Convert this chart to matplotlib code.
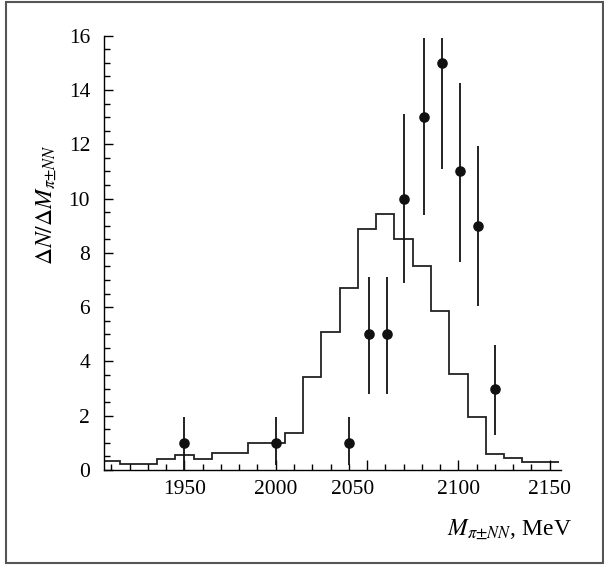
import matplotlib
matplotlib.use("Agg")
import matplotlib.pyplot as plt
import numpy as np
from matplotlib.patches import Rectangle
from matplotlib.ticker import MultipleLocator

plt.rcParams["font.family"] = ["Liberation Serif", "DejaVu Serif"]
plt.rcParams["mathtext.fontset"] = "stix"

# ── Data: measured events (points) ────────────────────────────────────────────
mass = [1950, 2000, 2040, 2051, 2061, 2070, 2081, 2091, 2101, 2111, 2120]
counts = [1, 1, 1, 5, 5, 10, 13, 15, 11, 9, 3]
err_lo = [1.0, 0.8, 0.82, 2.2, 2.2, 3.1, 3.6, 3.9, 3.35, 2.95, 1.7]
err_hi = [0.95, 0.95, 0.95, 2.1, 2.1, 3.1, 2.9, 0.9, 3.25, 2.95, 1.6]

# ── Data: simulated spectrum (histogram) ──────────────────────────────────────
hist_edges = [1905, 1915, 1925, 1935, 1945, 1955, 1965, 1975, 1985, 1995,
              2005, 2015, 2025, 2035, 2045, 2055, 2065, 2075, 2085, 2095,
              2105, 2115, 2125, 2135, 2145, 2155]
hist_vals = [0.34, 0.22, 0.22, 0.42, 0.55, 0.42, 0.64, 0.64, 0.98, 0.98,
             1.35, 3.41, 5.1, 6.69, 8.87, 9.42, 8.5, 7.51, 5.86, 3.54,
             1.96, 0.59, 0.44, 0.28, 0.28]

x_ticks = [1950, 2000, 2050, 2100, 2150]
x_labels = ["1950", "2000", "", "2100", "2150"]

W, H = 604, 565
fig = plt.figure(figsize=(W / 100, H / 100), dpi=100)
ax = fig.add_axes([104 / W, 1 - 470 / H, 456.7 / W, 434.3 / H])

ax.stairs(hist_vals, hist_edges, baseline=None, color="#222222", lw=1.3)
ax.errorbar(mass, counts, yerr=[err_lo, err_hi], fmt="o", color="#111111",
            ms=6.6, elinewidth=1.3, capsize=0)

ax.set_xlim(1906, 2156)
ax.set_ylim(0, 16)

for side in ("top", "right"):
    ax.spines[side].set_visible(False)
for side in ("left", "bottom"):
    ax.spines[side].set_linewidth(1.0)

ax.set_xticks(x_ticks)
ax.set_xticklabels(x_labels)
ax.xaxis.set_minor_locator(MultipleLocator(10))
ax.yaxis.set_major_locator(MultipleLocator(2))
ax.yaxis.set_minor_locator(MultipleLocator(0.5))
ax.tick_params(which="both", direction="in", labelsize=15.5, width=1.0)
ax.tick_params(axis="x", which="major", length=7.5, pad=7)
ax.tick_params(axis="x", which="minor", length=4.5)
ax.tick_params(axis="y", which="major", length=6.5, pad=10)
ax.tick_params(axis="y", which="minor", length=4)

# the 2050 label sits left of its tick in the original figure
ax.annotate("2050", xy=(2042, 0), xycoords=("data", "axes fraction"),
            xytext=(0, -7), textcoords="offset points",
            ha="center", va="top", fontsize=15.5)

ax.text(1.025, -0.150, r"$M_{\pi{\pm}NN}$, MeV", transform=ax.transAxes,
        ha="right", va="baseline", fontsize=17)
ax.text(-0.125, 0.61, r"$\Delta N/\Delta M_{\pi{\pm}NN}$", transform=ax.transAxes,
        rotation=90, ha="center", va="center", fontsize=17)

# outer frame around the whole figure
fig.patches.append(Rectangle((6 / W, 2 / H), 597 / W, 561 / H,
                             transform=fig.transFigure, fill=False,
                             edgecolor="#555555", lw=1.5))

fig.savefig("out.png", dpi=100)
